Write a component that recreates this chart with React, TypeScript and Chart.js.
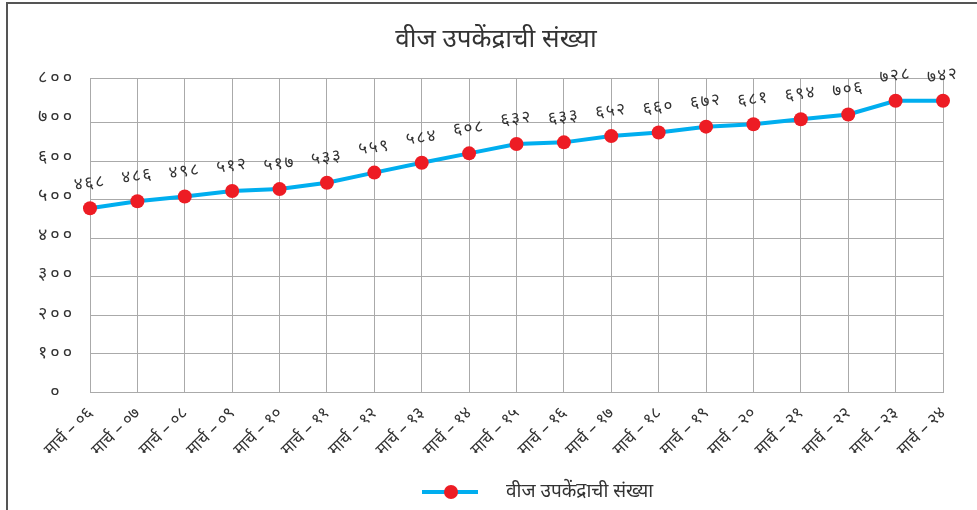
import React, { useEffect, useRef } from "react";
import { Chart, registerables } from "chart.js";

Chart.register(...registerables);

const TITLE = "वीज उपकेंद्राची संख्या";
const SERIES_NAME = "वीज उपकेंद्राची संख्या";
const YEARS = ["०६", "०७", "०८", "०९", "१०", "११", "१२", "१३", "१४", "१५", "१६", "१७", "१८", "१९", "२०", "२१", "२२", "२३", "२४"];
const CATEGORIES = YEARS.map((y) => "मार्च – " + y);
// printed value labels
const VALUE_LABELS = [468, 486, 498, 512, 517, 533, 559, 584, 608, 632, 633, 652, 660, 672, 681, 694, 706, 728, 742];
// values as plotted in the picture
const VALUES = [468, 486, 498, 512, 517, 533, 559, 584, 608, 632, 636, 652, 661, 676, 682, 695, 707, 742, 742];
const Y_MIN = 0;
const Y_MAX = 800;
const Y_STEP = 100;
// gridlines as printed in the picture (slightly taller top row)
const GRID_TICKS = [0, 100, 200, 300, 400, 500, 600, 700, 816];
const GRID_MAX = 816;

const DEV = "०१२३४५६७८९";
const toDev = (n: number | string, sep: string) =>
  String(n)
    .split("")
    .map((d) => (/[0-9]/.test(d) ? DEV[Number(d)] : d))
    .join(sep);

const FONT = "'Noto Sans', 'Noto Sans Devanagari', 'Lohit Devanagari', sans-serif";
const LINE_COLOR = "#00AEEF";
const POINT_COLOR = "#ED1C24";
const TEXT_COLOR = "#333333";
const GRID_COLOR = "#AAAAAA";

const framePlugin = {
  id: "frame",
  afterDraw(chart: any) {
    const ctx = chart.ctx;
    ctx.save();
    ctx.strokeStyle = "#555555";
    ctx.lineWidth = 2;
    ctx.beginPath();
    ctx.moveTo(7, 600);
    ctx.lineTo(7, 3);
    ctx.lineTo(1200, 3);
    ctx.stroke();
    ctx.fillStyle = TEXT_COLOR;
    ctx.font = `26px ${FONT}`;
    ctx.textAlign = "center";
    ctx.textBaseline = "middle";
    ctx.fillText(TITLE, 496, 40);
    ctx.restore();
  },
};

const dataLabelPlugin = {
  id: "dataLabels",
  afterDatasetsDraw(chart: any) {
    const ctx = chart.ctx;
    const meta = chart.getDatasetMeta(0);
    ctx.save();
    ctx.fillStyle = TEXT_COLOR;
    ctx.font = `17px ${FONT}`;
    ctx.textAlign = "center";
    ctx.textBaseline = "middle";
    meta.data.forEach((pt: any, i: number) => {
      ctx.save();
      ctx.translate(pt.x - 1, pt.y - 25);
      ctx.rotate((-7 * Math.PI) / 180);
      ctx.fillText(toDev(VALUE_LABELS[i], "\u200A"), 0, 0);
      ctx.restore();
    });
    ctx.restore();
  },
};

const legendPlugin = {
  id: "customLegend",
  afterDraw(chart: any) {
    const ctx = chart.ctx;
    const y = 492;
    ctx.save();
    ctx.strokeStyle = LINE_COLOR;
    ctx.lineWidth = 4;
    ctx.beginPath();
    ctx.moveTo(422, y);
    ctx.lineTo(478, y);
    ctx.stroke();
    ctx.fillStyle = POINT_COLOR;
    ctx.beginPath();
    ctx.arc(451, y, 7, 0, Math.PI * 2);
    ctx.fill();
    ctx.fillStyle = TEXT_COLOR;
    ctx.font = `19px ${FONT}`;
    ctx.textAlign = "left";
    ctx.textBaseline = "middle";
    ctx.fillText(SERIES_NAME, 506, y);
    ctx.restore();
  },
};

export default function App() {
  const ref = useRef<HTMLCanvasElement | null>(null);
  useEffect(() => {
    if (!ref.current) return;
    const chart = new Chart(ref.current, {
      type: "line",
      data: {
        labels: CATEGORIES,
        datasets: [
          {
            label: SERIES_NAME,
            data: VALUES,
            yAxisID: "y",
            borderColor: LINE_COLOR,
            backgroundColor: POINT_COLOR,
            borderWidth: 4,
            pointRadius: 7,
            pointBackgroundColor: POINT_COLOR,
            pointBorderWidth: 0,
            tension: 0,
          },
        ],
      },
      options: {
        animation: false,
        responsive: false,
        layout: { padding: { left: 0, right: 34, top: 78, bottom: 48 } },
        plugins: {
          legend: { display: false },
          tooltip: { enabled: false },
          title: { display: false },
        },
        scales: {
          x: {
            offset: false,
            grid: { color: GRID_COLOR, lineWidth: 1, drawTicks: false },
            border: { color: GRID_COLOR, width: 1 },
            ticks: {
              autoSkip: false,
              maxRotation: 45,
              minRotation: 45,
              padding: 11,
              color: TEXT_COLOR,
              font: { family: FONT, size: 17 },
            },
            afterFit(s: any) {
              s.height = 70;
            },
          },
          y: {
            position: "left",
            min: Y_MIN,
            max: Y_MAX,
            grid: { display: false, drawTicks: false },
            border: { color: GRID_COLOR, width: 1 },
            ticks: {
              stepSize: Y_STEP,
              padding: 18,
              crossAlign: "center",
              color: TEXT_COLOR,
              font: { family: FONT, size: 18 },
              callback: (v: any) => toDev(v, "\u2009"),
            },
            afterFit(s: any) {
              s.width = 90;
            },
          },
          yGrid: {
            position: "right",
            min: 0,
            max: GRID_MAX,
            grid: { color: GRID_COLOR, lineWidth: 1, drawTicks: false },
            border: { display: false },
            ticks: { display: false },
            afterBuildTicks(s: any) {
              s.ticks = GRID_TICKS.map((v) => ({ value: v }));
            },
            afterFit(s: any) {
              s.width = 0;
            },
          },
        },
      } as any,
      plugins: [framePlugin, dataLabelPlugin, legendPlugin],
    });
    return () => chart.destroy();
  }, []);
  return (
    <div style={{ position: "absolute", left: 0, top: 0, width: 977, height: 510, background: "#fff" }}>
      <canvas ref={ref} width={977} height={510} style={{ width: 977, height: 510 }} />
    </div>
  );
}
